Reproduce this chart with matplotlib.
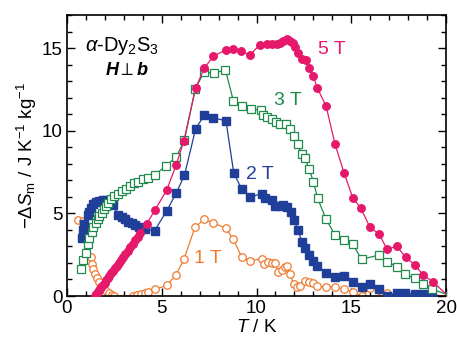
import matplotlib
matplotlib.use("Agg")
import matplotlib.pyplot as plt
from matplotlib.ticker import MultipleLocator

plt.rcParams['font.family'] = ['Liberation Sans', 'DejaVu Sans']
plt.rcParams['mathtext.fontset'] = 'custom'
plt.rcParams['mathtext.rm'] = 'Liberation Sans'
plt.rcParams['mathtext.it'] = 'Liberation Sans:italic'
plt.rcParams['mathtext.bf'] = 'Liberation Sans:bold'
plt.rcParams['mathtext.bfit'] = 'Liberation Sans:italic:bold'

# ---- data (T in K, -dS_m in J K^-1 kg^-1) ----
T5 = [1.48, 1.55, 1.62, 1.68, 1.75, 1.82, 1.9, 1.98, 2.06, 2.15, 2.24, 2.33, 2.43,
      2.53, 2.63, 2.74, 2.85, 2.96, 3.08, 3.2, 3.33, 3.46, 3.6, 3.73, 3.86, 4.2,
      4.64, 5.26, 5.75, 6.17, 6.79, 7.25, 7.72, 8.39, 8.78, 9.17, 9.66, 10.18,
      10.54, 10.8, 11.07, 11.24, 11.41, 11.59, 11.77, 11.9, 12.03, 12.2, 12.38,
      12.6, 12.79, 13.0, 13.2, 13.67, 14.14, 14.62, 15.08, 15.51, 15.99, 16.46,
      16.9, 17.4, 17.87, 18.36, 18.8, 19.3, 20.2]
S5 = [0.0, 0.12, 0.24, 0.34, 0.45, 0.56, 0.68, 0.81, 0.94, 1.08, 1.22, 1.37, 1.52,
      1.68, 1.84, 2.01, 2.18, 2.36, 2.55, 2.74, 2.95, 3.16, 3.38, 3.59, 3.8, 4.35,
      5.2, 6.4, 7.9, 9.4, 12.6, 13.8, 14.5, 14.9, 14.95, 14.8, 14.6, 15.2,
      15.27, 15.23, 15.25, 15.3, 15.43, 15.56, 15.43, 15.3, 15.07, 14.7, 14.36,
      14.26, 13.8, 13.3, 12.6, 11.5, 9.2, 7.45, 5.94, 5.3, 4.15, 3.75,
      2.82, 3.02, 2.34, 1.87, 1.27, 0.87, -0.1]

T3 = [0.72, 0.86, 0.99, 1.09, 1.16, 1.3, 1.39, 1.51, 1.62, 1.7, 1.83, 1.95, 2.06,
      2.18, 2.32, 2.5, 2.71, 2.92, 3.11, 3.32, 3.55, 3.76, 4.0, 4.26, 4.62, 5.2,
      5.77, 6.2, 6.77, 7.24, 7.74, 8.36, 8.78, 9.22, 9.69, 10.22, 10.36, 10.57,
      10.8, 11.03, 11.24, 11.56, 11.77, 11.98, 12.17, 12.38, 12.56, 12.79, 13.0,
      13.23, 13.67, 14.14, 14.62, 15.08, 15.55, 16.46, 16.9, 17.4, 17.84, 18.36,
      18.8, 19.28, 20.2]
S3 = [1.63, 2.17, 2.58, 3.14, 3.48, 3.89, 4.15, 4.39, 4.63, 4.83, 5.03, 5.24, 5.44,
      5.64, 5.84, 6.04, 6.2, 6.36, 6.5, 6.65, 6.81, 6.91, 7.05, 7.17, 7.33, 7.85,
      8.42, 9.45, 12.55, 13.55, 13.48, 13.68, 11.8, 11.5, 11.3, 11.25, 10.94, 10.83,
      10.68, 10.53, 10.43, 10.43, 10.13, 9.67, 9.18, 8.58, 8.32, 7.66, 6.9,
      5.9, 4.65, 3.69, 3.38, 3.12, 2.22, 2.48, 2.07, 1.77, 1.31, 1.07,
      0.71, 0.42, 0.02]

T2 = [0.77, 0.86, 0.91, 1.09, 1.16, 1.27, 1.39, 1.53, 1.71, 1.88, 2.06, 2.23, 2.44,
      2.71, 2.89, 3.06, 3.24, 3.41, 3.59, 3.8, 4.12, 4.62, 5.26, 5.77, 6.2, 6.79,
      7.25, 7.72, 8.39, 8.8, 9.22, 9.68, 10.27, 10.45, 10.8, 10.98, 11.24, 11.41,
      11.59, 11.8, 11.98, 12.2, 12.38, 12.56, 12.79, 13.0, 13.21, 13.67, 14.14,
      14.62, 15.08, 15.55, 15.99, 16.46, 16.9, 17.4, 17.84, 18.36, 18.8, 19.28]
S2 = [3.48, 3.99, 4.35, 4.9, 5.1, 5.34, 5.54, 5.66, 5.76, 5.8, 5.8, 5.74, 5.5,
      4.9, 4.8, 4.63, 4.5, 4.39, 4.29, 4.15, 4.03, 3.95, 5.15, 6.24, 7.31, 10.13,
      10.94, 10.78, 10.6, 7.43, 6.47, 5.98, 6.2, 5.95, 5.8, 5.44, 5.44, 5.5,
      5.4, 5.1, 4.59, 3.99, 3.28, 2.88, 2.48, 2.13, 1.81, 1.41, 1.13,
      1.21, 0.87, 0.56, 0.73, 0.4, 0.02, 0.16, 0.2, 0.12, 0.12, 0.06]

T1 = [0.6, 0.83, 1.0, 1.12, 1.28, 1.32, 1.39, 1.46, 1.57, 1.67, 1.81, 1.99, 2.2,
      2.37, 2.5, 3.5, 3.71, 3.9, 4.12, 4.29, 4.64, 5.26, 5.75, 6.17, 6.75, 7.23,
      7.72, 8.39, 8.78, 9.22, 9.66, 10.27, 10.4, 10.62, 10.8, 10.98, 11.15, 11.33,
      11.5, 11.6, 11.77, 11.96, 12.12, 12.3, 12.56, 12.79, 13.0, 13.21, 13.67,
      14.14, 14.62, 15.08, 15.55, 15.99, 16.46, 16.9, 17.4, 17.84, 18.36, 18.8,
      19.28, 20.2]
S1 = [4.6, 4.55, 3.9, 3.1, 2.37, 1.92, 1.63, 1.33, 1.07, 0.83, 0.56, 0.34, 0.16,
      0.04, 0.0, 0.0, 0.06, 0.12, 0.2, 0.26, 0.4, 0.64, 1.27, 2.22, 4.15, 4.63,
      4.43, 4.09, 3.42, 2.35, 2.13, 2.25, 1.92, 2.07, 1.99, 2.01, 1.44, 1.6,
      1.77, 1.8, 1.35, 0.72, 0.56, 0.58, 0.92, 0.86, 0.8, 0.6, 0.56,
      0.56, 0.4, 0.26, 0.0, 0.46, 0.35, 0.2, 0.12, 0.12, 0.1, 0.1,
      0.05, 0.0]

C5 = '#E5186C'
C3 = '#1E8A4C'
C2 = '#1F3F98'
C1 = '#F07A30'

fig = plt.figure(figsize=(4.57, 3.42), dpi=100)
ax = fig.add_axes([0.1466, 0.1345, 0.8294, 0.8215])

lw = 0.9
ms = 5.4
ax.plot(T1, S1, '-o', color=C1, lw=lw, ms=ms, mfc='white', mec=C1, mew=0.9, zorder=2)
ax.plot(T2, S2, '-s', color=C2, lw=lw, ms=ms, mfc=C2, mec=C2, zorder=3)
ax.plot(T3, S3, '-s', color=C3, lw=lw, ms=ms, mfc='white', mec=C3, mew=0.9, zorder=4)
ax.plot(T5, S5, '-o', color=C5, lw=lw, ms=ms, mfc=C5, mec=C5, zorder=5)

ax.set_xlim(0, 20)
ax.set_ylim(0, 17)
ax.xaxis.set_major_locator(MultipleLocator(5))
ax.xaxis.set_minor_locator(MultipleLocator(1))
ax.yaxis.set_major_locator(MultipleLocator(5))
ax.yaxis.set_minor_locator(MultipleLocator(1))
ax.tick_params(which='both', direction='in', top=True, right=True, labelsize=13.5,
               width=1.0, pad=3)
ax.tick_params(which='major', length=6)
ax.tick_params(which='minor', length=3.5)
for s in ax.spines.values():
    s.set_linewidth(1.2)

ax.set_xlabel(r'$T$ / K', fontsize=13.5, labelpad=1)
ax.set_ylabel(r'$-\Delta S_{\rm m}$ / J K$^{-1}$ kg$^{-1}$', fontsize=13.5, labelpad=2)

ax.text(0.95, 15.15, r'$\alpha$-Dy$_2$S$_3$', fontsize=14.5, ha='left', va='center')
ax.text(3.19, 13.65, r'$\mathbfit{H}\perp\mathbfit{b}$', fontsize=13, ha='center', va='center')

ax.text(14.0, 14.9, '5 T', color=C5, fontsize=14, ha='center', va='center')
ax.text(11.64, 11.84, '3 T', color=C3, fontsize=14, ha='center', va='center')
ax.text(10.2, 7.37, '2 T', color=C2, fontsize=14, ha='center', va='center')
ax.text(7.41, 2.29, '1 T', color=C1, fontsize=14, ha='center', va='center')

fig.savefig('out.png', dpi=100)
